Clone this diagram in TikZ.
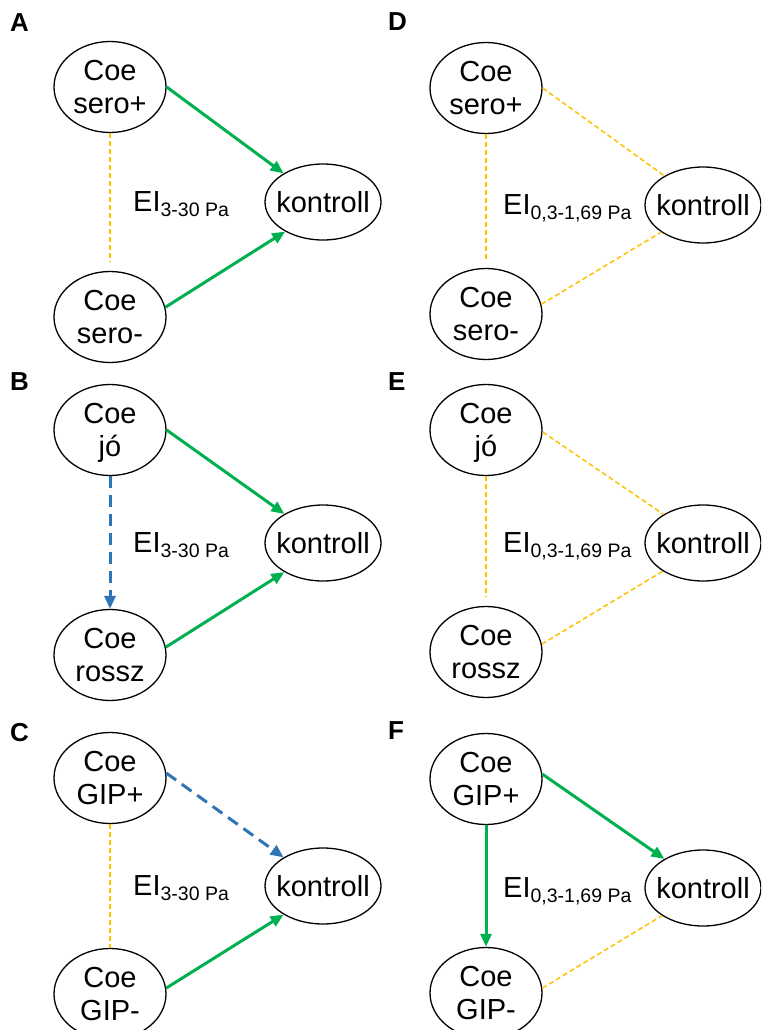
\documentclass[tikz,border=0pt]{standalone}
\usepackage{fontspec}
\setmainfont{Liberation Sans}
\usetikzlibrary{shapes.geometric,arrows.meta}
\definecolor{posgreen}{HTML}{00B050}
\definecolor{negblue}{HTML}{2E75B6}
\definecolor{nsorange}{HTML}{FFC000}
% two centred lines of zero width, so the ellipse keeps its fixed size
\newcommand{\twoline}[2]{\makebox[0pt]{#1}\\\makebox[0pt]{#2}}
\newcommand{\eisub}[1]{EI\raisebox{-5pt}{\fontsize{19.5}{20}\selectfont #1}}
\tikzset{
  oval/.style={ellipse, draw=black, line width=1.3pt, minimum width=112pt,
    minimum height=91pt, inner sep=0pt, align=center,
    font=\fontsize{29}{33}\selectfont},
  ctrl/.style={ellipse, draw=black, line width=1.3pt, minimum width=116pt,
    minimum height=76pt, inner sep=0pt, font=\fontsize{29}{33}\selectfont},
  panel/.style={anchor=west, inner sep=0pt, font=\fontsize{26}{30}\selectfont\bfseries},
  eilabel/.style={anchor=base west, inner sep=0pt, font=\fontsize{29}{33}\selectfont},
  sig/.style={draw=posgreen, line width=3pt, -{Triangle[length=13pt,width=11pt]}},
  sigdash/.style={draw=negblue, line width=3pt, dash pattern=on 12pt off 7pt,
    -{Triangle[length=13pt,width=11pt]}},
  ns/.style={draw=nsorange, line width=1.5pt, dash pattern=on 5pt off 3pt},
}
\begin{document}
\begin{tikzpicture}[x=1pt,y=-1pt]
  \clip (0,0) rectangle (761,1030);

  % ---------- A ----------
  \node[panel] (aL) at (10,23) {A};
  \node[oval] (aT) at (110,87) {\twoline{Coe}{sero+}};
  \node[oval] (aB) at (110,317) {\twoline{Coe}{sero-}};
  \node[ctrl] (aK) at (323,202) {\makebox[0pt]{kontroll}};
  \node[eilabel] (aE) at (133,211) {\eisub{3-30 Pa}};
  \draw[sig] (aT.east) -- (aK.144);
  \draw[sig] (aB.10) -- (aK.218);
  \draw[ns, shorten >=9pt] (aT.south) -- (aB.north);

  % ---------- B ----------
  \node[panel] (bL) at (10,382) {B};
  \node[oval] (bT) at (110,430) {\twoline{Coe}{\raisebox{0pt}[\height][0pt]{jó}}};
  \node[oval] (bB) at (110,655) {\twoline{Coe}{rossz}};
  \node[ctrl] (bK) at (323,543) {\makebox[0pt]{kontroll}};
  \node[eilabel] (bE) at (133,552) {\eisub{3-30 Pa}};
  \draw[sig] (bT.east) -- (bK.143);
  \draw[sig] (bB.8) -- (bK.217);
  \draw[sigdash] (bT.south) -- (bB.north);

  % ---------- C ----------
  \node[panel] (cL) at (10,733) {C};
  \node[oval] (cT) at (110,778) {\twoline{Coe}{GIP+}};
  \node[oval] (cB) at (110,994) {\twoline{Coe}{GIP-}};
  \node[ctrl] (cK) at (323,886) {\makebox[0pt]{kontroll}};
  \node[eilabel] (cE) at (133,895) {\eisub{3-30 Pa}};
  \draw[sigdash] (cT.5) -- (cK.144);
  \draw[sig] (cB.6) -- (cK.216);
  \draw[ns] (cT.south) -- (cB.north);

  % ---------- D ----------
  \node[panel] (dL) at (388,22) {D};
  \node[oval] (dT) at (486,88) {\twoline{Coe}{sero+}};
  \node[oval] (dB) at (486,314) {\twoline{Coe}{sero-}};
  \node[ctrl] (dK) at (703,205) {\makebox[0pt]{kontroll}};
  \node[eilabel] (dE) at (503,214) {\eisub{0,3-1,69 Pa}};
  \draw[ns] (dT.east) -- (dK.143);
  \draw[ns] (dB.10) -- (dK.213);
  \draw[ns, shorten >=9pt] (dT.south) -- (dB.north);

  % ---------- E ----------
  \node[panel] (eL) at (388,382) {E};
  \node[oval] (eT) at (486,430) {\twoline{Coe}{\raisebox{0pt}[\height][0pt]{jó}}};
  \node[oval] (eB) at (486,652) {\twoline{Coe}{rossz}};
  \node[ctrl] (eK) at (703,543) {\makebox[0pt]{kontroll}};
  \node[eilabel] (eE) at (503,552) {\eisub{0,3-1,69 Pa}};
  \draw[ns] (eT.-2) -- (eK.144);
  \draw[ns] (eB.8) -- (eK.215);
  \draw[ns, shorten >=9pt] (eT.south) -- (eB.north);

  % ---------- F ----------
  \node[panel] (fL) at (388,731) {F};
  \node[oval] (fT) at (486,779) {\twoline{Coe}{GIP+}};
  \node[oval] (fB) at (486,993) {\twoline{Coe}{GIP-}};
  \node[ctrl] (fK) at (703,888) {\makebox[0pt]{kontroll}};
  \node[eilabel] (fE) at (503,897) {\eisub{0,3-1,69 Pa}};
  \draw[sig] (fT.5) -- (fK.143);
  \draw[sig] (fT.south) -- (fB.north);
  \draw[ns] (fB.5) -- (fK.214);
\end{tikzpicture}
\end{document}
